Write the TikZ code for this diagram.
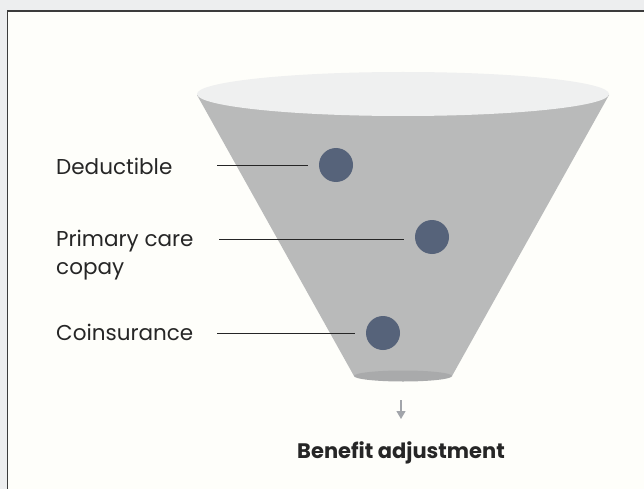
\documentclass[tikz,border=0pt]{standalone}
\usepackage{fontspec}
\setmainfont{Poppins}
\usetikzlibrary{arrows.meta}
\definecolor{outerbg}{HTML}{EDEEEF}
\definecolor{innerbg}{HTML}{FEFEFA}
\definecolor{framec}{HTML}{3C3C3C}
\definecolor{conec}{HTML}{B9BABA}
\definecolor{topc}{HTML}{EFF0F0}
\definecolor{botc}{HTML}{A9AAAB}
\definecolor{dotc}{HTML}{56637A}
\definecolor{txt}{HTML}{262626}
\definecolor{arrc}{HTML}{A2A5AA}
\tikzset{
  lbl/.style={anchor=base west,inner sep=0pt,text=txt,font=\fontsize{21.5}{28.5}\selectfont,align=left},
  dotn/.style={circle,fill=dotc,minimum size=34pt,inner sep=0pt},
  leader/.style={draw=txt,line width=0.9pt,shorten >=11pt},
}
\begin{document}
\begin{tikzpicture}[x=1pt,y=-1pt]
\useasboundingbox (0,0) rectangle (644,489);
\fill[outerbg] (0,0) rectangle (644,489);
\fill[innerbg] (7.5,11) rectangle (650,495);
\draw[framec,line width=1.5pt] (7.5,495) -- (7.5,11) -- (650,11);
% funnel
\fill[conec] (197,95) -- (354,376) -- (452,376) -- (609,95) -- cycle;
\fill[botc] (403,376) ellipse [x radius=49, y radius=5.5];
\fill[topc] (403,94) ellipse [x radius=206, y radius=22];
% dots
\node[dotn] (d1) at (336,165) {};
\node[dotn] (d2) at (432,237) {};
\node[dotn] (d3) at (383,333) {};
% labels
\node[lbl] (t1) at (56,175) {Deductible};
\node[lbl] (t2) at (56,274.5) {Primary care\\copay};
\node[lbl] (t3) at (56,340) {Coinsurance};
\coordinate (s1) at (217,165);
\coordinate (s2) at (219,239);
\coordinate (s3) at (217,333);
\draw[leader] (s1) -- (d1.west);
\draw[leader] (s2) -- (d2.west |- s2);
\draw[leader] (s3) -- (d3.west);
% arrow and result
\coordinate (a1) at (401,400);
\node[anchor=base,inner sep=0pt,text=txt,font=\fontsize{21}{24}\selectfont\bfseries] (res) at (401,458) {Benefit adjustment};
\coordinate (a2) at (401,419);
\draw[arrc,line width=1.2pt,-{Triangle[width=9pt,length=8pt]}] (a1) -- (a2);
\end{tikzpicture}
\end{document}
